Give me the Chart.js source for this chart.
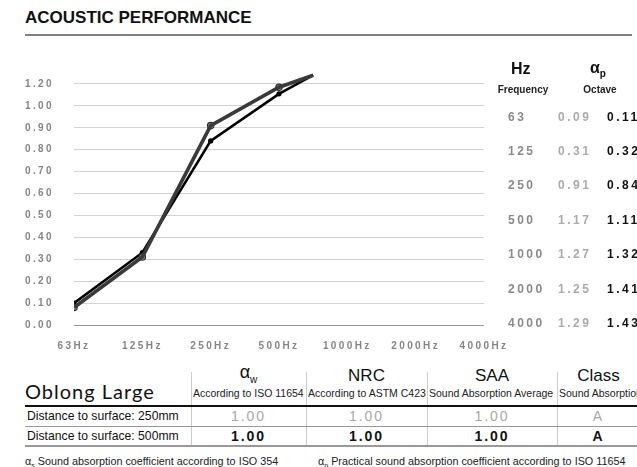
<!DOCTYPE html>
<html>
<head>
<meta charset="utf-8">
<script src="https://cdn.jsdelivr.net/npm/chart.js@4.4.0/dist/chart.umd.min.js"></script>
<style>
  html,body{margin:0;padding:0;width:637px;height:467px;overflow:hidden;background:#fff;font-family:"Liberation Sans",Arial,sans-serif;}
  #wrap{position:relative;width:637px;height:467px;overflow:hidden;}
  .abs{position:absolute;white-space:nowrap;}
  #title{left:25px;top:8px;font-weight:bold;font-size:17px;color:#111;}
  #rule{left:25px;top:34px;width:607px;height:2px;background:#808080;}
  #chartBox{position:absolute;left:0;top:47px;width:520px;height:313px;}
  .hz{font-weight:bold;}
  .rt{font-weight:bold;font-size:12px;letter-spacing:2.5px;}
  .small{font-size:10.5px;color:#222;}
  .hdr{font-size:17px;color:#111;}
  .cell{font-size:12.2px;color:#111;}
  .vline{position:absolute;width:1px;background:#ccc;}
  .hline{position:absolute;left:25px;width:612px;}
</style>
</head>
<body>
<div id="wrap">
  <div id="title" class="abs">ACOUSTIC PERFORMANCE</div>
  <div id="rule" class="abs"></div>
  <div id="chartBox"><canvas id="c" width="520" height="313"></canvas></div>
  <div id="rightTable"></div>
  <div id="bottomTable"></div>
</div>
<script>
// ---- data ----
const freqLabels = ['63', '125', '250', '500', '1000', '2000', '4000'];
const alpha250 = ['0.09', '0.31', '0.91', '1.17', '1.27', '1.25', '1.29'];
const alpha500 = ['0.11', '0.32', '0.84', '1.11', '1.32', '1.41', '1.43'];
// plotted line points (x = category position)
const linePos = [0, 1, 2, 3, 3.5];
const line250 = [0.08, 0.31, 0.91, 1.17, 1.28];
const line500 = [0.10, 0.33, 0.84, 1.11, 1.28];
const yTicks = [0, 0.1, 0.2, 0.3, 0.4, 0.5, 0.6, 0.7, 0.8, 0.9, 1.0, 1.1];
const productName = 'Oblong Large';
const rowLabels = ['Distance to surface: 250mm', 'Distance to surface: 500mm'];
const colHeads = ['NRC', 'SAA', 'Class'];
const colSubs = ['According to ISO 11654', 'According to ASTM C423', 'Sound Absorption Average', 'Sound Absorption Class'];
const row250 = ['1.00', '1.00', '1.00', 'A'];
const row500 = ['1.00', '1.00', '1.00', 'A'];

// axis is linear up to 1.0, compressed by half above 1.0
const toAxis = v => v <= 1 ? v : 1 + (v - 1) / 2;
const fromAxis = v => v <= 1.0001 ? v : 1 + (v - 1) * 2;

const pts = arr => arr.map((v, i) => ({x: linePos[i], y: toAxis(v)}));

const spacing = {
  id: 'spacing',
  beforeDraw(chart){ chart.ctx.letterSpacing = '2.4px'; },
  beforeDatasetsDraw(chart){ chart.ctx.letterSpacing = '0px'; }
};

const tickFont = {family: '"Liberation Sans", Arial, sans-serif', size: 10, weight: 'bold'};
new Chart(document.getElementById('c'), {
  type: 'line',
  data: {
    datasets: [
      {data: pts(line250), borderColor: '#3a3a3a', borderWidth: 3.6, pointRadius: 0, tension: 0},
      {data: pts(line250), borderColor: '#d4d4d4', borderWidth: 1.3, tension: 0,
       pointRadius: [3.2, 3.2, 3.2, 3.2, 0], pointBackgroundColor: '#909090', pointBorderColor: '#303030', pointBorderWidth: 1.2},
      {data: pts(line500), borderColor: '#000', borderWidth: 2.6, tension: 0,
       pointRadius: [2.6, 2.6, 2.6, 2.6, 0], pointBackgroundColor: '#000', pointBorderColor: '#000', pointBorderWidth: 0}
    ]
  },
  options: {
    responsive: false,
    animation: false,
    layout: {autoPadding: false, padding: {top: 12, right: 36, left: 0, bottom: 0}},
    plugins: {legend: {display: false}, tooltip: {enabled: false}},
    scales: {
      x: {
        type: 'linear', min: 0, max: 6,
        afterBuildTicks(s){ s.ticks = freqLabels.map((f, i) => ({value: i})); },
        afterFit(s){ s.height = 35; },
        grid: {display: false, drawTicks: false},
        border: {display: false},
        ticks: {font: tickFont, color: '#858585', padding: 15, maxRotation: 0, autoSkip: false,
                callback: v => freqLabels[v] + 'Hz'}
      },
      y: {
        type: 'linear', min: 0, max: 1.15,
        afterBuildTicks(s){ s.ticks = yTicks.map(v => ({value: v})); },
        afterFit(s){ s.width = 74; },
        grid: {drawTicks: false, lineWidth: 1, color: c => (c.tick && c.tick.value === 0) ? '#9a9a9a' : '#d2d2d2'},
        border: {display: false},
        ticks: {font: tickFont, color: '#858585', padding: 20, callback: v => fromAxis(v).toFixed(2)}
      }
    }
  },
  plugins: [spacing]
});

// ---- right side table ----
const rt = document.getElementById('rightTable');
let html = '';
html += '<div class="abs hz" style="left:511px;top:60px;font-size:16px;color:#111;">Hz</div>';
html += '<div class="abs hz" style="left:493px;top:84px;width:60px;text-align:center;font-size:10px;color:#222;">Frequency</div>';
html += '<div class="abs hz" style="left:590px;top:59px;font-size:16px;color:#111;">α<sub style="font-size:10px;">p</sub></div>';
html += '<div class="abs hz" style="left:570px;top:84px;width:60px;text-align:center;font-size:10px;color:#222;">Octave</div>';
freqLabels.forEach((f, i) => {
  const y = 117 + i * 34.4 - 7.5;
  html += `<div class="abs rt" style="left:508px;top:${y}px;color:#8a8a8a;">${f}</div>`;
  html += `<div class="abs rt" style="left:558px;top:${y}px;color:#ababab;">${alpha250[i]}</div>`;
  html += `<div class="abs rt" style="left:607px;top:${y}px;color:#111;">${alpha500[i]}</div>`;
});
rt.innerHTML = html;

// ---- bottom table ----
const bt = document.getElementById('bottomTable');
const colX = [191, 306, 427, 557, 640];
let b = '';
b += `<div class="abs" style="left:25px;top:379px;font-family:Lato,'Noto Sans',sans-serif;font-size:20px;color:#111;letter-spacing:1px;">${productName}</div>`;
const heads = ['α<sub style="font-size:10px;">w</sub>'].concat(colHeads);
for (let i = 0; i < 4; i++) {
  const l = colX[i], w = colX[i + 1] - colX[i];
  b += `<div class="abs hdr" style="left:${l}px;top:366px;width:${w}px;text-align:center;${i===0?'font-size:18px;top:362px;':''}">${heads[i]}</div>`;
  b += `<div class="abs small" style="left:${l + 2}px;top:387px;">${colSubs[i]}</div>`;
  b += `<div class="abs" style="left:${l}px;top:408px;width:${w}px;text-align:center;font-size:14px;color:#a8a8a8;letter-spacing:2px;">${row250[i]}</div>`;
  b += `<div class="abs" style="left:${l}px;top:428px;width:${w}px;text-align:center;font-size:14px;font-weight:bold;color:#111;letter-spacing:2px;">${row500[i]}</div>`;
}
for (let i = 0; i < 4; i++) {
  b += `<div class="vline" style="left:${colX[i]}px;top:372px;height:74px;"></div>`;
}
b += `<div class="abs cell" style="left:27px;top:409px;">${rowLabels[0]}</div>`;
b += `<div class="abs cell" style="left:27px;top:429px;">${rowLabels[1]}</div>`;
b += '<div class="hline" style="top:405px;height:2px;background:#111;"></div>';
b += '<div class="hline" style="top:426px;height:1px;background:#999;"></div>';
b += '<div class="hline" style="top:445px;height:2px;background:#999;"></div>';
b += '<div class="abs" style="left:25px;top:455px;font-size:10.8px;color:#222;">α<sub style="font-size:7px;">s</sub> Sound absorption coefficient according to ISO 354</div>';
b += '<div class="abs" style="left:318px;top:455px;font-size:10.8px;color:#222;">α<sub style="font-size:7px;">p</sub> Practical sound absorption coefficient according to ISO 11654</div>';
bt.innerHTML = b;
</script>
</body>
</html>
